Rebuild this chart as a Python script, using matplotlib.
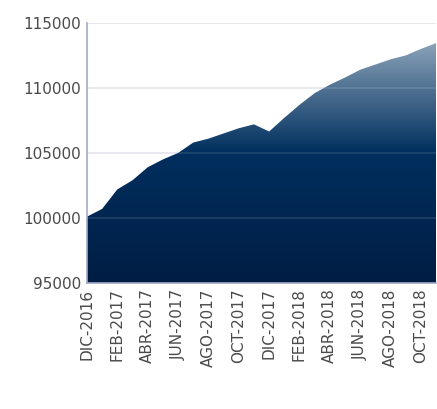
import numpy as np
import matplotlib
matplotlib.use("Agg")
import matplotlib.pyplot as plt
from matplotlib.colors import LinearSegmentedColormap
from matplotlib.patches import PathPatch

# monthly series, DIC-2016 .. NOV-2018
months = [
    "DIC-2016", "ENE-2017", "FEB-2017", "MAR-2017", "ABR-2017", "MAY-2017",
    "JUN-2017", "JUL-2017", "AGO-2017", "SEP-2017", "OCT-2017", "NOV-2017",
    "DIC-2017", "ENE-2018", "FEB-2018", "MAR-2018", "ABR-2018", "MAY-2018",
    "JUN-2018", "JUL-2018", "AGO-2018", "SEP-2018", "OCT-2018", "NOV-2018",
]
values = [
    100100, 100700, 102200, 102900, 103900, 104500,
    105000, 105800, 106100, 106500, 106900, 107200,
    106650, 107700, 108700, 109600, 110250, 110800,
    111400, 111800, 112200, 112500, 113000, 113450,
]
y_ticks = [95000, 100000, 105000, 110000, 115000]

fig = plt.figure(figsize=(4.37, 4.09), dpi=100)
ax = fig.add_axes([0.199, 0.308, 0.799, 0.636])

x = np.arange(len(values))
ymin, ymax = 95000, 115000

# light grid on the white part
for t in y_ticks:
    ax.axhline(t, color="#e2e2ec", lw=1.2, zorder=0)

# gradient fill clipped to the area under the line
cmap = LinearSegmentedColormap.from_list(
    "navy",
    [(0.0, "#001d44"), (0.5, "#002f5e"), (0.925, "#8ba3b9"), (1.0, "#9fb3c6")],
)
grad = np.linspace(0, 1, 256).reshape(-1, 1)
img = ax.imshow(grad, cmap=cmap, origin="lower", aspect="auto",
                extent=[0, len(values) - 1, ymin, ymax], zorder=1)
area = ax.fill_between(x, values, ymin, color="none", lw=0)
clip = PathPatch(area.get_paths()[0], transform=ax.transData,
                 facecolor="none", edgecolor="none")
ax.add_patch(clip)
img.set_clip_path(clip)

# faint grid lines showing through the fill
for t in y_ticks[1:-1]:
    ax.axhline(t, color="white", alpha=0.12, lw=1.2, zorder=2)

ax.set_xlim(0, len(values) - 1)
ax.set_ylim(ymin, ymax)

ax.set_yticks(y_ticks)
ax.set_yticklabels([str(t) for t in y_ticks])
ax.set_xticks(x[::2])
ax.set_xticklabels(months[::2], rotation=90)

ax.tick_params(axis="both", length=0, labelsize=11, labelcolor="#4a4a4a")
ax.tick_params(axis="y", pad=4)
ax.tick_params(axis="x", pad=4)

for side in ["top", "right"]:
    ax.spines[side].set_visible(False)
ax.spines["left"].set_color("#a4aac6")
ax.spines["bottom"].set_color("#a4aac6")
ax.spines["left"].set_linewidth(1.2)
ax.spines["bottom"].set_linewidth(1.2)
ax.spines["left"].set_zorder(3)
ax.spines["bottom"].set_zorder(3)

fig.savefig("out.png", dpi=100)
